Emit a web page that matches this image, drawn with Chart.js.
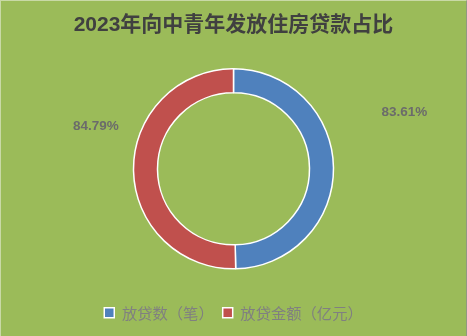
<!DOCTYPE html>
<html>
<head>
<meta charset="utf-8">
<script src="https://cdn.jsdelivr.net/npm/chart.js@4/dist/chart.umd.min.js"></script>
<style>
  html, body { margin: 0; padding: 0; background: #9BBB59; }
  #wrap { position: relative; width: 467px; height: 336px; }
  #frame {
    position: absolute; left: 0; top: 0; width: 465px; height: 335px;
    border-top: 1px solid #c9d9a6; border-left: 1px solid #c9d9a6;
    border-right: 1px solid #8f9a80; pointer-events: none;
  }
  canvas { display: block; }
</style>
</head>
<body>
<div id="wrap">
  <canvas id="c" width="467" height="336"></canvas>
  <div id="frame"></div>
</div>
<script>
// 2023年向中青年发放住房贷款占比
const chartTitle = '2023年向中青年发放住房贷款占比';
const categories = ['放贷数（笔）', '放贷金额（亿元）'];
const shareValues = [83.61, 84.79];
const sliceColors = ['#4F81BD', '#C0504D'];

const CJK = '"Liberation Sans", "Noto Sans CJK SC", sans-serif';

// Percentage labels placed outside the ring, lifted a little above each slice's middle
const outsideLabels = {
  id: 'outsideLabels',
  afterDatasetsDraw(chart, args, opts) {
    const ctx = chart.ctx;
    const meta = chart.getDatasetMeta(0);
    const values = chart.data.datasets[0].data;
    ctx.save();
    ctx.font = opts.font;
    ctx.fillStyle = opts.color;
    ctx.textAlign = 'center';
    ctx.textBaseline = 'middle';
    meta.data.forEach((arc, i) => {
      const p = arc.getProps(['x', 'y', 'startAngle', 'endAngle', 'outerRadius'], true);
      let a = (p.startAngle + p.endAngle) / 2;
      const side = Math.cos(a) >= 0 ? 1 : -1;
      a -= side * opts.lift;
      const d = p.outerRadius * opts.distance[i];
      ctx.fillText(values[i].toFixed(2) + '%', p.x + Math.cos(a) * d, p.y + Math.sin(a) * d);
    });
    ctx.restore();
  }
};

new Chart(document.getElementById('c'), {
  type: 'doughnut',
  data: {
    labels: categories,
    datasets: [{
      data: shareValues,
      backgroundColor: sliceColors,
      borderColor: '#FFFFFF',
      borderWidth: 1.5,
      hoverOffset: 0
    }]
  },
  options: {
    responsive: false,
    devicePixelRatio: 1,
    animation: false,
    radius: 100,
    cutout: '76%',
    layout: { padding: { top: 0, bottom: 5.5, left: 0, right: 0 } },
    plugins: {
      title: {
        display: true,
        text: chartTitle,
        color: '#404040',
        font: { family: CJK, size: 21, weight: 'bold' },
        padding: { top: 13, bottom: 3.3 }
      },
      legend: {
        position: 'bottom',
        labels: {
          boxWidth: 10,
          boxHeight: 10,
          padding: 9,
          color: '#808080',
          font: { family: '"Noto Sans CJK SC", sans-serif', size: 15.3 }
        }
      },
      tooltip: { enabled: false },
      outsideLabels: {
        font: 'bold 13.5px "Liberation Sans", sans-serif',
        color: '#6B6B6B',
        lift: 17.7 * Math.PI / 180,
        distance: [1.80, 1.44]
      }
    }
  },
  plugins: [outsideLabels]
});
</script>
</body>
</html>
